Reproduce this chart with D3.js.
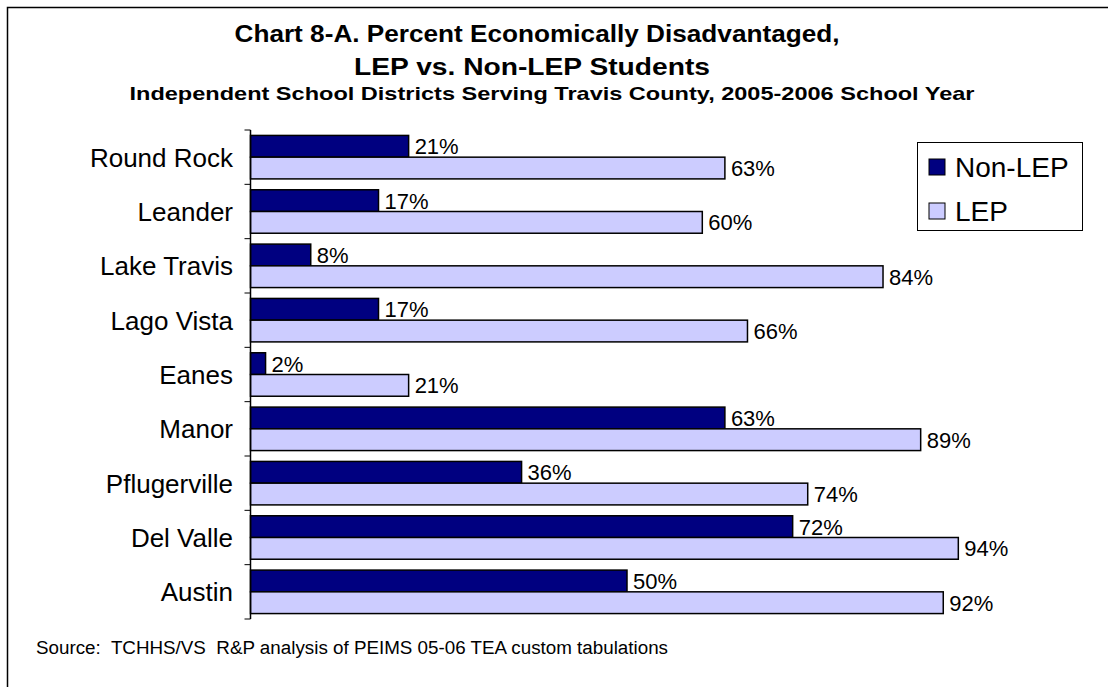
<!DOCTYPE html>
<html>
<head>
<meta charset="utf-8">
<script src="https://cdn.jsdelivr.net/npm/d3@7"></script>
<style>
  html, body { margin: 0; padding: 0; background: #fff; }
  svg { display: block; font-family: Arial, "Liberation Sans", sans-serif; }
</style>
</head>
<body>
<svg id="chart" width="1108" height="687"></svg>
<script>
// Districts, top to bottom
const districts = ["Round Rock", "Leander", "Lake Travis", "Lago Vista", "Eanes",
                   "Manor", "Pflugerville", "Del Valle", "Austin"];
// Percent economically disadvantaged
const nonLep = [21, 17, 8, 17, 2, 63, 36, 72, 50];
const lep    = [63, 60, 84, 66, 21, 89, 74, 94, 92];
const seriesNames = ["Non-LEP", "LEP"];
const seriesColors = ["#000080", "#CCCCFF"];

const titleLines = ["Chart 8-A. Percent Economically Disadvantaged,", "LEP vs. Non-LEP Students"];
const subtitle = "Independent School Districts Serving Travis County, 2005-2006 School Year";
const source = "Source:  TCHHS/VS  R&P analysis of PEIMS 05-06 TEA custom tabulations";

const svg = d3.select("#chart");

// outer frame (top and left edges)
svg.append("path")
  .attr("d", "M7.5,687 V7.5 H1108")
  .attr("fill", "none").attr("stroke", "#000").attr("stroke-width", 1.5);

// titles (widened to the chart's heading width)
svg.append("text").attr("x", 537).attr("y", 42).attr("text-anchor", "middle")
  .attr("font-weight", "bold").attr("font-size", 23)
  .attr("textLength", 605).attr("lengthAdjust", "spacingAndGlyphs").text(titleLines[0]);
svg.append("text").attr("x", 532).attr("y", 75).attr("text-anchor", "middle")
  .attr("font-weight", "bold").attr("font-size", 23)
  .attr("textLength", 356).attr("lengthAdjust", "spacingAndGlyphs").text(titleLines[1]);
svg.append("text").attr("x", 552).attr("y", 100).attr("text-anchor", "middle")
  .attr("font-weight", "bold").attr("font-size", 19)
  .attr("textLength", 845).attr("lengthAdjust", "spacingAndGlyphs").text(subtitle);

// scales
const x = d3.scaleLinear().domain([0, 100]).range([250.5, 1003.5]);
const y = d3.scaleBand().domain(districts).range([130, 619]).padding(0);
const ySub = d3.scaleBand().domain(seriesNames).range([0, y.bandwidth()])
  .paddingInner(0).paddingOuter(0.25);

const rows = districts.map((d, i) => ({ district: d, values: [nonLep[i], lep[i]] }));

const groups = svg.append("g").selectAll("g").data(rows).join("g")
  .attr("transform", d => `translate(0,${y(d.district)})`);

const bars = groups.selectAll("g.bar")
  .data(d => d.values.map((v, k) => ({ name: seriesNames[k], value: v, k })))
  .join("g").attr("class", "bar");

bars.append("rect")
  .attr("x", x(0))
  .attr("y", d => ySub(d.name))
  .attr("width", d => x(d.value) - x(0))
  .attr("height", ySub.bandwidth())
  .attr("fill", d => seriesColors[d.k])
  .attr("stroke", "#000").attr("stroke-width", 1.5);

bars.append("text")
  .attr("x", d => x(d.value) + 6)
  .attr("y", d => ySub(d.name) + ySub.bandwidth() / 2)
  .attr("dy", "0.36em")
  .attr("font-size", 22)
  .text(d => d.value + "%");

// category axis
const yAxis = svg.append("g").attr("transform", `translate(${x(0)},0)`);
yAxis.append("line").attr("x1", 0).attr("x2", 0).attr("y1", 130).attr("y2", 619)
  .attr("stroke", "#000").attr("stroke-width", 1.5);
const boundaries = districts.map(d => y(d)).concat([y.range()[1]]);
yAxis.selectAll("line.tick").data(boundaries).join("line").attr("class", "tick")
  .attr("x1", -6).attr("x2", 0).attr("y1", d => d).attr("y2", d => d)
  .attr("stroke", "#000").attr("stroke-width", 1);
svg.append("g").selectAll("text").data(districts).join("text")
  .attr("x", 233)
  .attr("y", d => y(d) + y.bandwidth() / 2)
  .attr("dy", "0.36em")
  .attr("text-anchor", "end")
  .attr("font-size", 26)
  .text(d => d);

// legend
const legend = svg.append("g");
legend.append("rect").attr("x", 917.5).attr("y", 142.5).attr("width", 165).attr("height", 88)
  .attr("fill", "#fff").attr("stroke", "#000").attr("stroke-width", 1);
const li = legend.selectAll("g").data(seriesNames).join("g")
  .attr("transform", (d, i) => `translate(929,${159 + i * 44})`);
li.append("rect").attr("width", 16).attr("height", 16)
  .attr("fill", (d, i) => seriesColors[i]).attr("stroke", "#000").attr("stroke-width", 1);
li.append("text").attr("x", 26).attr("y", 8).attr("dy", "0.36em")
  .attr("font-size", 28).text(d => d);

// source note
svg.append("text").attr("x", 36).attr("y", 654).attr("font-size", 18)
  .style("white-space", "pre")
  .attr("textLength", 632).attr("lengthAdjust", "spacingAndGlyphs").text(source);
</script>
</body>
</html>
